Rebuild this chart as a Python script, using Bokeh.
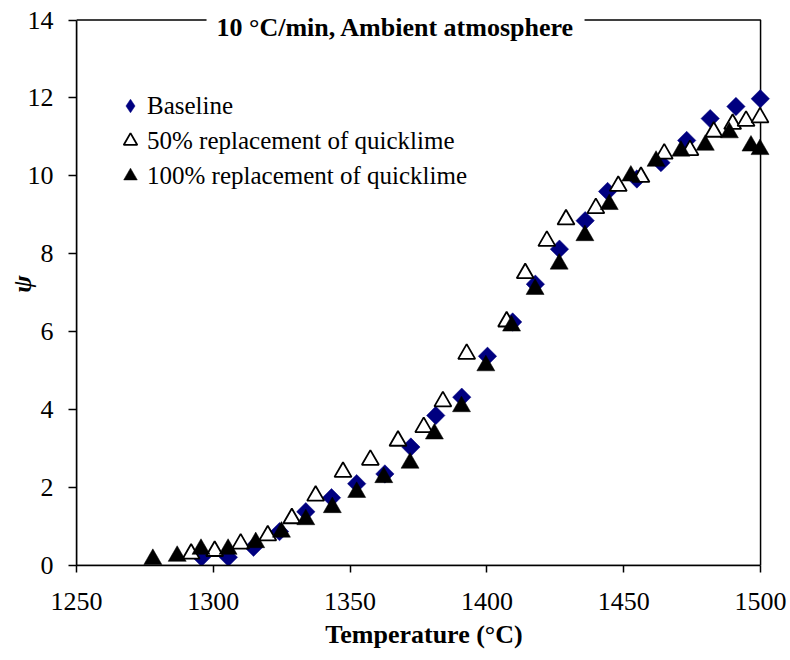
from bokeh.plotting import figure
from bokeh.models import Range1d, FixedTicker, BoxAnnotation, Label, Legend, LegendItem
from bokeh.embed import file_html
from bokeh.resources import INLINE
import math

# ---- data ----
baseline_T = [1295.7, 1305.5, 1314.7, 1324.2, 1333.8, 1343.2, 1352.4, 1362.7, 1372.2, 1381.3,
              1390.8, 1400.2, 1409.4, 1417.7, 1426.5, 1435.9, 1444.1, 1454.8, 1463.6, 1473.0,
              1481.6, 1491.0, 1499.9]
baseline_psi = [0.21, 0.21, 0.47, 0.87, 1.38, 1.74, 2.10, 2.35, 3.04, 3.85,
                4.32, 5.37, 6.25, 7.22, 8.12, 8.85, 9.60, 9.92, 10.34, 10.91,
                11.47, 11.78, 11.98]

half_T = [1291.9, 1300.5, 1310.0, 1319.9, 1328.7, 1337.4, 1347.4, 1357.4, 1367.5, 1376.9,
          1383.9, 1392.6, 1407.2, 1414.0, 1421.9, 1428.9, 1439.8, 1448.0, 1456.3, 1464.8,
          1474.2, 1482.9, 1489.8, 1494.7, 1499.8]
half_psi = [0.30, 0.37, 0.56, 0.77, 1.21, 1.79, 2.40, 2.71, 3.20, 3.55,
            4.21, 5.43, 6.26, 7.50, 8.33, 8.88, 9.17, 9.74, 9.97, 10.57,
            10.66, 11.13, 11.33, 11.41, 11.50]

full_T = [1277.9, 1286.8, 1295.5, 1305.4, 1315.5, 1324.9, 1333.8, 1343.5, 1352.4, 1362.3,
          1371.9, 1380.8, 1390.7, 1399.6, 1409.0, 1417.6, 1426.4, 1435.8, 1444.7, 1452.6,
          1461.8, 1470.9, 1479.8, 1488.6, 1496.5, 1499.8]
full_psi = [0.16, 0.24, 0.42, 0.42, 0.59, 0.86, 1.18, 1.49, 1.88, 2.26,
            2.63, 3.38, 4.08, 5.13, 6.15, 7.09, 7.74, 8.47, 9.27, 10.00,
            10.38, 10.64, 10.79, 11.11, 10.77, 10.68]

x_ticks = [1250, 1300, 1350, 1400, 1450, 1500]
y_ticks = [0, 2, 4, 6, 8, 10, 12, 14]

series_labels = ["Baseline", "50% replacement of quicklime", "100% replacement of quicklime"]
title_text = "10 \u00b0C/min, Ambient atmosphere"
x_title = "Temperature (\u00b0C)"
y_title = "\u03c8"

FONT = "Liberation Serif"
NAVY = "#000080"

p = figure(width=789, height=659, output_backend="svg", toolbar_location=None,
           x_range=Range1d(1250, 1504), y_range=Range1d(0, 14.45),
           min_border_left=76, min_border_right=18, min_border_top=2, min_border_bottom=94)
p.xgrid.visible = False
p.ygrid.visible = False
p.outline_line_color = None
p.background_fill_color = "white"
p.border_fill_color = "white"

# plot-area border (top and right sides show; left/bottom lie under the axes)
frame_box = BoxAnnotation(left=x_ticks[0], right=x_ticks[-1], bottom=y_ticks[0], top=y_ticks[-1],
                          fill_color=None, fill_alpha=0, line_color="black", line_alpha=1.0,
                          line_width=1.5, level="underlay")
p.add_layout(frame_box)

xa = p.xaxis[0]
xa.ticker = FixedTicker(ticks=x_ticks)
xa.bounds = (x_ticks[0], x_ticks[-1])
xa.axis_line_color = "black"
xa.axis_line_width = 1.5
xa.major_tick_line_color = "black"
xa.major_tick_line_width = 1.5
xa.major_tick_out = 7
xa.major_tick_in = 0
xa.minor_tick_line_color = None
xa.major_label_text_font = FONT
xa.major_label_text_font_size = "26px"
xa.major_label_text_color = "black"
xa.major_label_standoff = 20
xa.axis_label = x_title
xa.axis_label_text_font = FONT
xa.axis_label_text_font_style = "bold"
xa.axis_label_text_font_size = "26px"
xa.axis_label_text_color = "black"
xa.axis_label_standoff = 7

ya = p.yaxis[0]
ya.ticker = FixedTicker(ticks=y_ticks)
ya.bounds = (y_ticks[0], y_ticks[-1])
ya.axis_line_color = "black"
ya.axis_line_width = 1.5
ya.major_tick_line_color = "black"
ya.major_tick_line_width = 1.5
ya.major_tick_out = 8
ya.major_tick_in = 0
ya.minor_tick_line_color = None
ya.major_label_text_font = FONT
ya.major_label_text_font_size = "26px"
ya.major_label_text_color = "black"
ya.major_label_standoff = 15
ya.axis_label = y_title
ya.axis_label_text_font = FONT
ya.axis_label_text_font_style = "bold italic"
ya.axis_label_text_font_size = "26px"
ya.axis_label_text_color = "black"
ya.axis_label_standoff = -12

r1 = p.scatter(baseline_T, baseline_psi, marker="square", angle=math.pi / 4, size=13,
               fill_color=NAVY, line_color=NAVY, line_width=0.5)
r2 = p.scatter(half_T, half_psi, marker="triangle", size=17,
               fill_color="white", line_color="black", line_width=1.8)
r3 = p.scatter(full_T, full_psi, marker="triangle", size=18,
               fill_color="black", line_color="black", line_width=0.5)
# hidden twin of the baseline series, used only for its diamond legend key
r1_key = p.scatter(baseline_T, baseline_psi, marker="diamond", fill_color=NAVY,
                   line_color=NAVY, line_width=0.5, visible=False)

legend = Legend(items=[LegendItem(label=series_labels[0], renderers=[r1_key]),
                       LegendItem(label=series_labels[1], renderers=[r2]),
                       LegendItem(label=series_labels[2], renderers=[r3])],
                location=(37, 372), glyph_width=34, glyph_height=35, label_standoff=0,
                spacing=0, padding=0, margin=0, border_line_color=None,
                background_fill_alpha=0, label_text_font=FONT,
                label_text_font_size="25px", label_text_color="black")
p.add_layout(legend)

title = Label(x=1366.6, y=13.81, text=title_text, text_font=FONT, text_font_style="bold",
              text_font_size="26px", text_color="black", text_align="center",
              text_baseline="middle", background_fill_color="white",
              padding=(10, 4))
p.add_layout(title)

open("out.html", "w").write(file_html(p, INLINE))
